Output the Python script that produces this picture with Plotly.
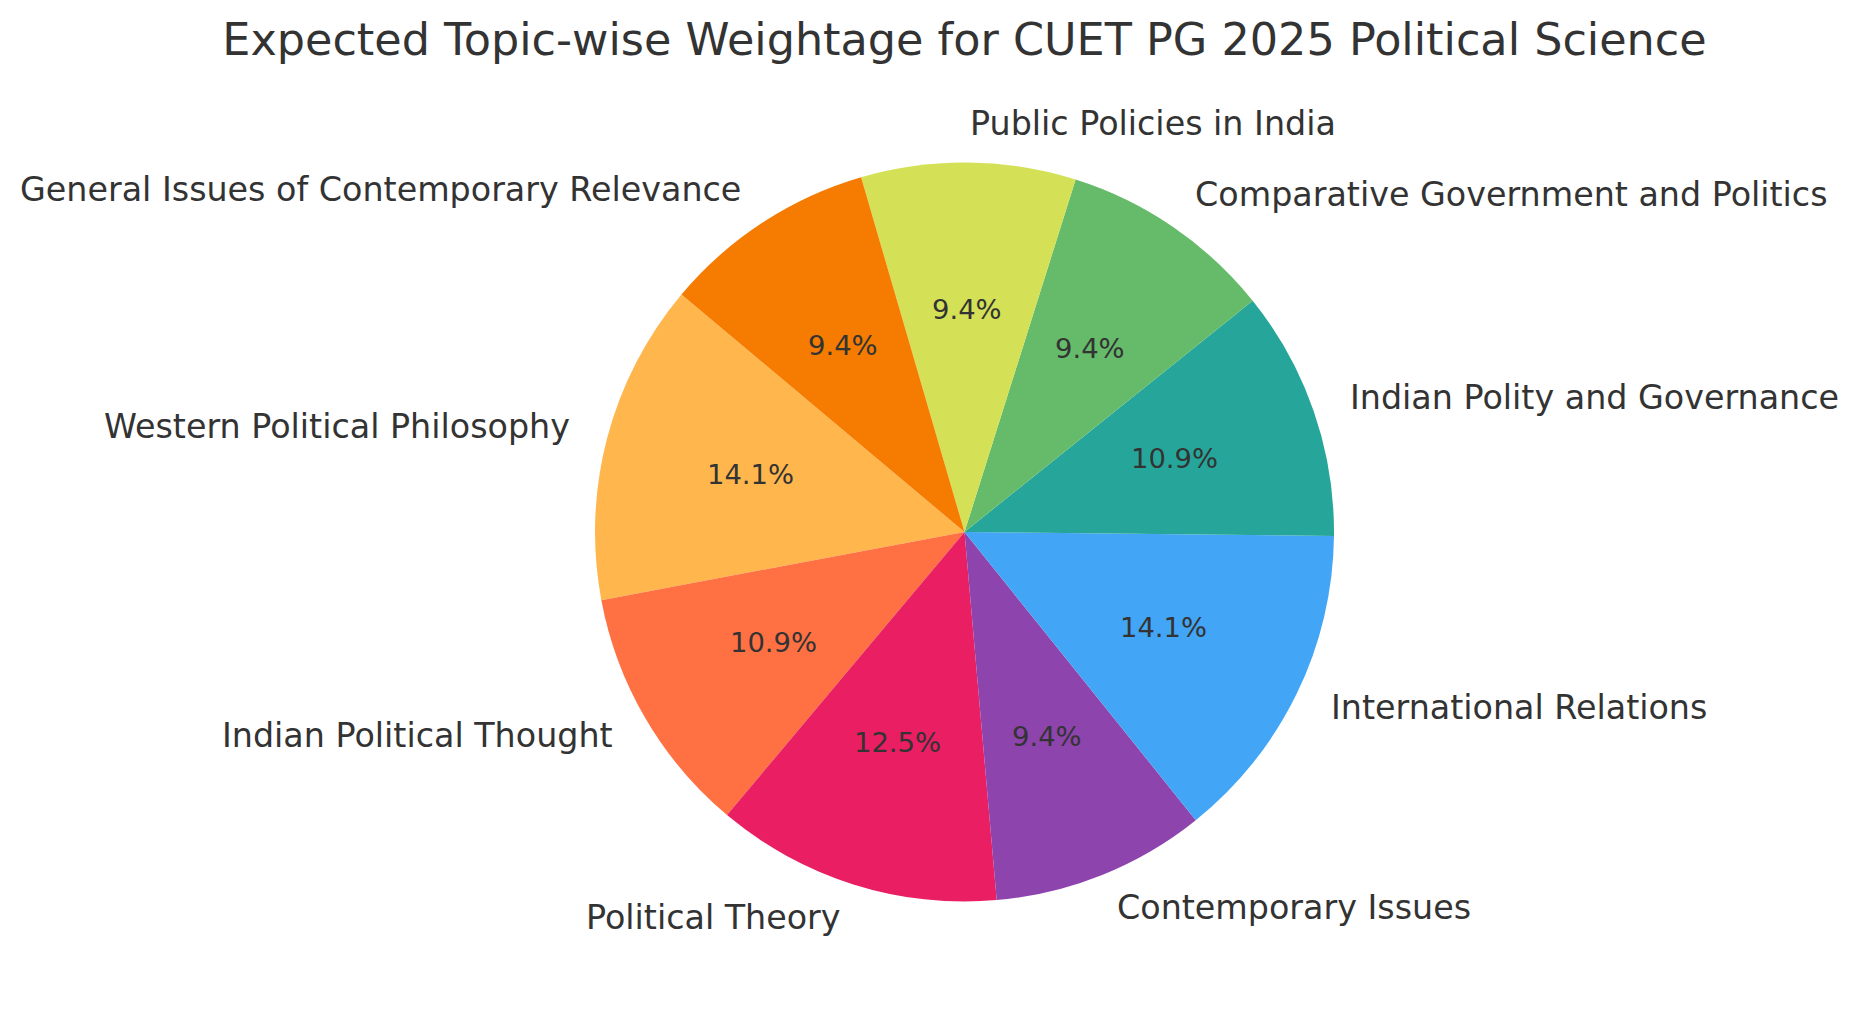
# %% Topic-wise weightage pie, labels placed like a matplotlib pie

import math

import plotly.graph_objects as go


# %% Chart values

title_text = "Expected Topic-wise Weightage for CUET PG 2025 Political Science"

topics = [
    "Western Political Philosophy",
    "Indian Political Thought",
    "Political Theory",
    "Contemporary Issues",
    "International Relations",
    "Indian Polity and Governance",
    "Comparative Government and Politics",
    "Public Policies in India",
    "General Issues of Contemporary Relevance",
]
# Questions out of 64, read back from the printed percentages.
questions = [9, 7, 8, 6, 9, 7, 6, 6, 6]
colors = [
    "#FFB74D",
    "#FF7043",
    "#E91E63",
    "#8E44AD",
    "#42A5F5",
    "#26A69A",
    "#66BB6A",
    "#D4E157",
    "#F57C00",
]


# %% Layout setup

# The page body keeps its default 8 px margin, so the figure is smaller than the window.
page_margin = 8
fig_width = 1857 - 2 * page_margin
fig_height = 1014 - 2 * page_margin
center_x = 964.5 - page_margin
center_y = 532 - page_margin
radius = 369.5
start_angle = 140
label_distance = 1.1
percent_distance = 0.6
text_color = "#333333"
font_family = "DejaVu Sans"


# %% Build figure

total = sum(questions)

# For counterclockwise pies plotly puts the END of the first slice at the rotation angle.
first_sweep = 360 * questions[0] / total
rotation = 90 - start_angle - first_sweep

fig = go.Figure(go.Pie(
    labels=topics,
    values=questions,
    sort=False,
    direction="counterclockwise",
    rotation=rotation,
    marker={"colors": colors, "line": {"width": 0}},
    textinfo="none",
    showlegend=False,
    domain={
        "x": [(center_x - radius) / fig_width, (center_x + radius) / fig_width],
        "y": [1 - (center_y + radius) / fig_height, 1 - (center_y - radius) / fig_height],
    },
))

angle = start_angle
for topic, count in zip(topics, questions):
    sweep = 360 * count / total
    mid = math.radians(angle + sweep / 2)
    angle += sweep

    label_x = center_x + label_distance * radius * math.cos(mid)
    label_y = center_y - label_distance * radius * math.sin(mid)
    fig.add_annotation(
        text=topic,
        x=label_x / fig_width,
        y=1 - label_y / fig_height,
        xref="paper",
        yref="paper",
        xanchor="left" if math.cos(mid) > 0 else "right",
        yanchor="middle",
        yshift=2,
        showarrow=False,
        borderpad=0,
        font={"size": 33.35, "color": text_color},
    )

    percent_x = center_x + percent_distance * radius * math.cos(mid)
    percent_y = center_y - percent_distance * radius * math.sin(mid)
    fig.add_annotation(
        text=f"{100 * count / total:.1f}%",
        x=percent_x / fig_width,
        y=1 - percent_y / fig_height,
        xref="paper",
        yref="paper",
        xanchor="center",
        yanchor="middle",
        yshift=1,
        showarrow=False,
        borderpad=0,
        font={"size": 27.4, "color": text_color},
    )

fig.update_layout(
    title={
        "text": title_text,
        "x": center_x / fig_width,
        "xanchor": "center",
        "y": 1 - (39 - page_margin) / fig_height,
        "yanchor": "middle",
        "font": {"size": 44.5, "color": text_color},
    },
    font={"family": font_family, "color": text_color},
    width=fig_width,
    height=fig_height,
    margin={"l": 0, "r": 0, "t": 0, "b": 0},
    paper_bgcolor="white",
)

fig.write_html("out.html")
